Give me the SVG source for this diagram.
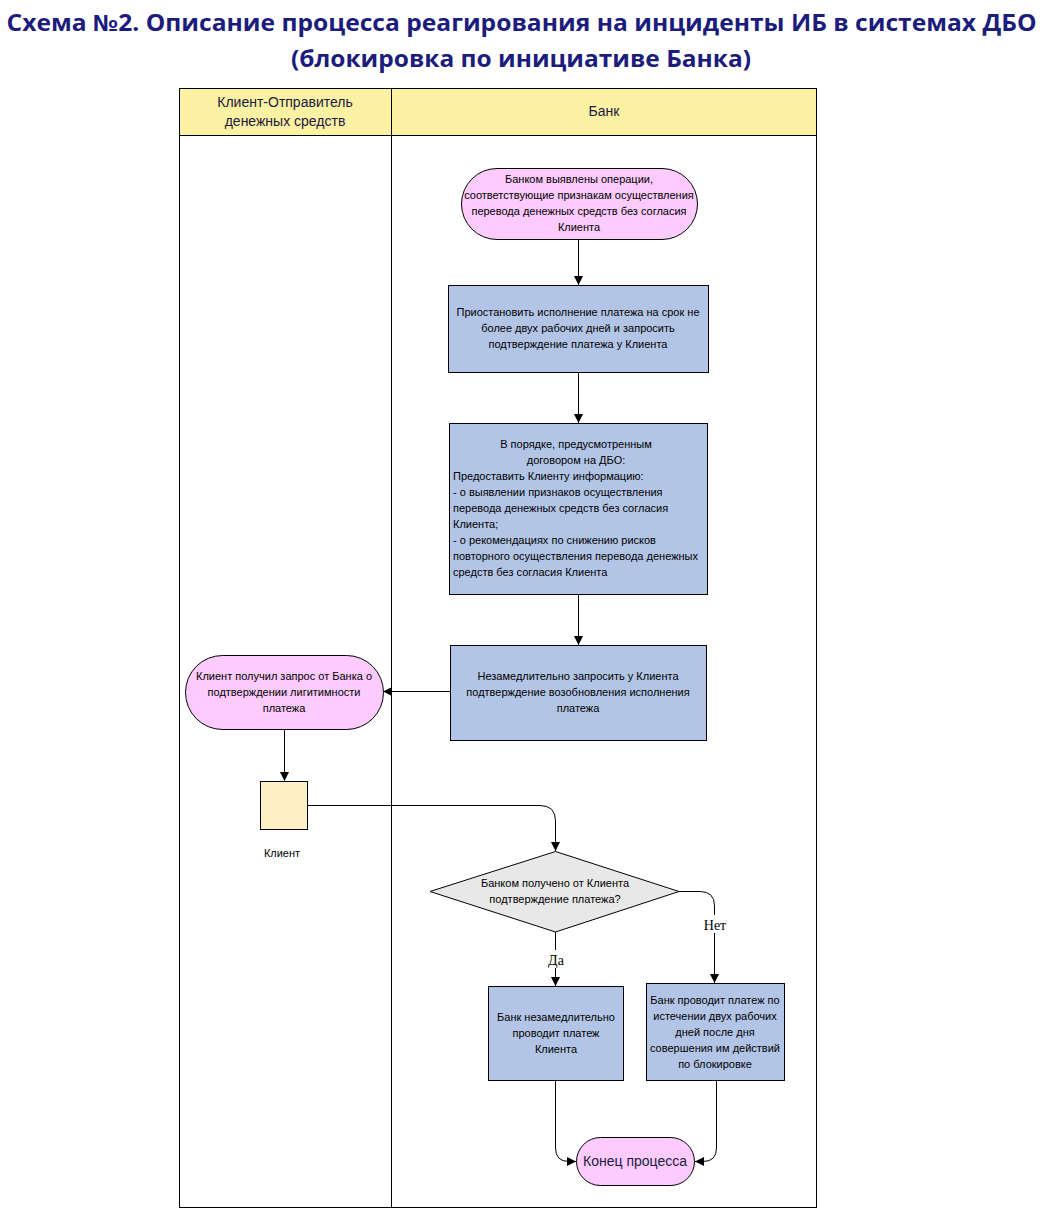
<svg xmlns="http://www.w3.org/2000/svg" width="1043" height="1209" viewBox="0 0 1043 1209">
<style>
.title{font-family:"Open Sans","Noto Sans","Liberation Sans",sans-serif;font-weight:bold;font-size:22.5px;fill:#1c1c7c}
.t{font-family:"Liberation Sans",Arial,sans-serif;font-size:11px;fill:#000}
.h{font-family:"Liberation Sans",Arial,sans-serif;font-size:14px;fill:#1a1a40}
.lbl{font-family:"Liberation Serif","Times New Roman",serif;font-size:14px;fill:#000}
.term{fill:#fdcbfd;stroke:#000;stroke-width:1}
.proc{fill:#b3c5e6;stroke:#000;stroke-width:1}
.line{fill:none;stroke:#000;stroke-width:1}
</style>
<defs>
<marker id="ah" viewBox="0 0 10 10" refX="10" refY="5" markerWidth="9" markerHeight="9" markerUnits="userSpaceOnUse" orient="auto">
<path d="M0,0 L10,5 L0,10 z" fill="#000"/>
</marker>
</defs>
<rect width="1043" height="1209" fill="#fff"/>
<g id="title">
<text class="title" x="521.5" y="31" text-anchor="middle" textLength="1030" lengthAdjust="spacingAndGlyphs">Схема №2. Описание процесса реагирования на инциденты ИБ в системах ДБО</text>
<text class="title" x="521" y="67" text-anchor="middle" textLength="460" lengthAdjust="spacingAndGlyphs">(блокировка по инициативе Банка)</text>
</g>
<g id="swimlanes">
<rect x="179.5" y="88.5" width="637" height="1119" fill="#fff" stroke="#000"/>
<rect x="179.5" y="88.5" width="637" height="47" fill="#fdf1a3" stroke="#000"/>
<line x1="391.5" y1="88.5" x2="391.5" y2="1207.5" stroke="#000"/>
<text class="h" x="285" y="107" text-anchor="middle">Клиент-Отправитель</text>
<text class="h" x="285" y="126" text-anchor="middle">денежных средств</text>
<text class="h" x="604" y="116" text-anchor="middle">Банк</text>
</g>
<g id="connectors">
<line class="line" x1="578.5" y1="239" x2="578.5" y2="285" marker-end="url(#ah)"/>
<line class="line" x1="578.5" y1="372" x2="578.5" y2="423" marker-end="url(#ah)"/>
<line class="line" x1="578.5" y1="595" x2="578.5" y2="645" marker-end="url(#ah)"/>
<line class="line" x1="450" y1="691.5" x2="383" y2="691.5" marker-end="url(#ah)"/>
<line class="line" x1="284.5" y1="729" x2="284.5" y2="781" marker-end="url(#ah)"/>
<path class="line" d="M307,805.5 H540 Q555.5,805.5 555.5,821 V851" marker-end="url(#ah)"/>
<line class="line" x1="555.5" y1="932" x2="555.5" y2="986" marker-end="url(#ah)"/>
<path class="line" d="M679,891.5 H700 Q714.5,891.5 714.5,906 V983" marker-end="url(#ah)"/>
<path class="line" d="M555.5,1080 V1148 Q555.5,1161.5 569,1161.5 H576" marker-end="url(#ah)"/>
<path class="line" d="M716.5,1080 V1148 Q716.5,1161.5 703,1161.5 H695" marker-end="url(#ah)"/>
<rect x="541" y="950" width="30" height="18" fill="#fff"/>
<rect x="700" y="915" width="30" height="18" fill="#fff"/>
<text class="lbl" x="556" y="965" text-anchor="middle">Да</text>
<text class="lbl" x="715" y="930" text-anchor="middle">Нет</text>
</g>
<g id="start">
<rect class="term" x="461.5" y="168.5" width="236" height="71" rx="35.5" ry="35.5"/>
<text class="t" x="579" y="183" text-anchor="middle">Банком выявлены операции,</text>
<text class="t" x="579" y="199" text-anchor="middle">соответствующие признакам осуществления</text>
<text class="t" x="579" y="215" text-anchor="middle">перевода денежных средств без согласия</text>
<text class="t" x="579" y="231" text-anchor="middle">Клиента</text>
</g>
<g id="suspend">
<rect class="proc" x="448.5" y="285.5" width="260" height="87"/>
<text class="t" x="578" y="316" text-anchor="middle">Приостановить исполнение платежа на срок не</text>
<text class="t" x="578" y="332" text-anchor="middle">более двух рабочих дней и запросить</text>
<text class="t" x="578" y="348" text-anchor="middle">подтверждение платежа у Клиента</text>
</g>
<g id="inform">
<rect class="proc" x="449.5" y="423.5" width="258" height="171"/>
<text class="t" x="576" y="448" text-anchor="middle">В порядке, предусмотренным</text>
<text class="t" x="576" y="464" text-anchor="middle">договором на ДБО:</text>
<text class="t" x="453" y="480">Предоставить Клиенту информацию:</text>
<text class="t" x="453" y="496">- о выявлении признаков осуществления</text>
<text class="t" x="453" y="512">перевода денежных средств без согласия</text>
<text class="t" x="453" y="528">Клиента;</text>
<text class="t" x="453" y="544">- о рекомендациях по снижению рисков</text>
<text class="t" x="453" y="560">повторного осуществления перевода денежных</text>
<text class="t" x="453" y="576">средств без согласия Клиента</text>
</g>
<g id="request">
<rect class="proc" x="450.5" y="645.5" width="256" height="95"/>
<text class="t" x="578" y="680" text-anchor="middle">Незамедлительно запросить у Клиента</text>
<text class="t" x="578" y="696" text-anchor="middle">подтверждение возобновления исполнения</text>
<text class="t" x="578" y="712" text-anchor="middle">платежа</text>
</g>
<g id="client-received">
<rect class="term" x="185.5" y="655.5" width="198" height="74" rx="37" ry="37"/>
<text class="t" x="284" y="680" text-anchor="middle">Клиент получил запрос от Банка о</text>
<text class="t" x="284" y="696" text-anchor="middle">подтверждении лигитимности</text>
<text class="t" x="284" y="712" text-anchor="middle">платежа</text>
</g>
<g id="client">
<rect x="260.5" y="781.5" width="47" height="48" fill="#fdf0c4" stroke="#000"/>
<text class="t" x="282" y="857" text-anchor="middle">Клиент</text>
</g>
<g id="decision">
<polygon points="430,891.5 555.5,851.5 679,891.5 555.5,932" fill="#e8e8e8" stroke="#000"/>
<text class="t" x="555" y="887" text-anchor="middle">Банком получено от Клиента</text>
<text class="t" x="555" y="903" text-anchor="middle">подтверждение платежа?</text>
</g>
<g id="yes">
<rect class="proc" x="488.5" y="986.5" width="135" height="94"/>
<text class="t" x="556" y="1021" text-anchor="middle">Банк незамедлительно</text>
<text class="t" x="556" y="1037" text-anchor="middle">проводит платеж</text>
<text class="t" x="556" y="1053" text-anchor="middle">Клиента</text>
</g>
<g id="no">
<rect class="proc" x="646.5" y="983.5" width="138" height="97"/>
<text class="t" x="715" y="1004" text-anchor="middle">Банк проводит платеж по</text>
<text class="t" x="715" y="1020" text-anchor="middle">истечении двух рабочих</text>
<text class="t" x="715" y="1036" text-anchor="middle">дней после дня</text>
<text class="t" x="715" y="1052" text-anchor="middle">совершения им действий</text>
<text class="t" x="715" y="1068" text-anchor="middle">по блокировке</text>
</g>
<g id="end">
<rect class="term" x="576.5" y="1137.5" width="118" height="48" rx="24" ry="24"/>
<text class="h" x="635" y="1166" text-anchor="middle">Конец процесса</text>
</g>
</svg>
